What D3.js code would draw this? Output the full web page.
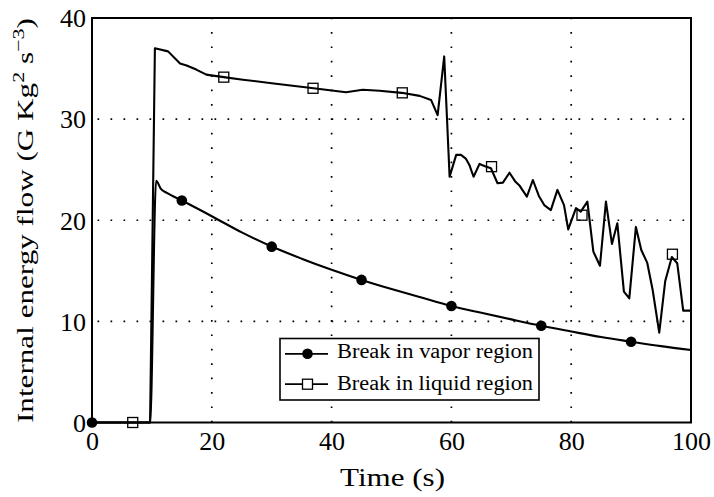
<!DOCTYPE html>
<html>
<head>
<meta charset="utf-8">
<script src="https://cdn.jsdelivr.net/npm/d3@7"></script>
<style>
  html, body { margin: 0; padding: 0; background: #fff; }
  svg { display: block; }
  text { font-family: "Liberation Serif", "Times New Roman", Tinos, Times, serif; fill: #000; }
</style>
</head>
<body>
<svg id="chart" width="714" height="497"></svg>
<script>
// ---- data ----
const vaporTime = [0, 9.7, 10.7, 11.5, 12.5, 15, 20, 25, 30, 35, 40, 45, 50, 55, 60, 65, 70, 75, 80, 85, 90, 95, 100];
const vaporValue = [0, 0, 23.9, 23.1, 22.7, 21.95, 20.4, 18.8, 17.4, 16.2, 15.1, 14.1, 13.2, 12.35, 11.52, 10.85, 10.2, 9.57, 9.0, 8.45, 7.99, 7.55, 7.17];

const liquidTime = [0, 9.7, 10.5, 12.7, 14.7, 15.8, 17.4, 19.1, 20.2, 22, 25.2, 30, 37, 42.4, 45.2, 48, 51.7, 54.7, 56.6, 57.7, 58.8, 59.7,
  60.8, 61.6, 62.4, 63.0, 63.7, 64.7, 65.5, 66.6, 67.7, 68.6, 69.7, 70.7, 71.4, 72.6, 73.6, 74.6, 75.5, 76.6, 77.7, 78.8, 79.5,
  80.8, 81.6, 82.7, 83.7, 84.8, 85.8, 86.8, 87.7, 88.8, 89.7, 90.8, 91.7, 92.7, 93.6, 94.7, 95.7, 96.8, 97.7, 98.7, 100];
const liquidValue = [0, 0, 37.0, 36.7, 35.5, 35.3, 34.9, 34.4, 34.3, 34.15, 33.9, 33.55, 33.05, 32.66, 32.9, 32.8, 32.6, 32.3, 31.9, 30.4, 36.2, 24.3,
  26.46, 26.46, 26.1, 25.47, 24.3, 25.57, 25.37, 25.14, 23.66, 23.72, 24.7, 23.8, 23.4, 22.33, 23.98, 22.4, 21.5, 21.0, 23.0, 21.5, 19.1,
  21.2, 20.85, 21.84, 16.9, 15.5, 21.84, 17.66, 19.7, 12.94, 12.28, 19.34, 17.06, 15.78, 13.1, 8.88, 14.0, 16.37, 15.75, 11.06, 11.06];

const vaporMarkTime = [0, 15, 30, 45, 60, 75, 90];
const vaporMarkValue = [0, 21.95, 17.39, 14.1, 11.52, 9.57, 7.99];
const liquidMarkTime = [6.8, 22, 36.9, 51.8, 66.7, 81.8, 96.9];
const liquidMarkValue = [0, 34.15, 33.05, 32.6, 25.3, 20.5, 16.64];

const xTicks = [0, 20, 40, 60, 80, 100];
const yTicks = [0, 10, 20, 30, 40];
const seriesNames = ["Break in vapor region", "Break in liquid region"];

// ---- layout ----
const FONT = '"Liberation Serif", "Times New Roman", Tinos, Times, serif';
const svg = d3.select("#chart");
const L = 92, R = 691, T = 18, B = 422.5;
const x = d3.scaleLinear().domain([0, 100]).range([L, R]);
const y = d3.scaleLinear().domain([0, 40]).range([B, T]);

// grid
const grid = svg.append("g");
grid.selectAll("line.gx").data(xTicks.filter(d => d > 0 && d < 100)).enter().append("line")
  .attr("x1", d => x(d)).attr("x2", d => x(d)).attr("y1", B).attr("y2", T)
  .attr("stroke", "#000").attr("stroke-width", 1.7).attr("stroke-dasharray", "1.7 12.7");
grid.selectAll("line.gy").data(yTicks.filter(d => d > 0 && d < 40)).enter().append("line")
  .attr("x1", L).attr("x2", R).attr("y1", d => y(d)).attr("y2", d => y(d))
  .attr("stroke", "#000").attr("stroke-width", 1.7).attr("stroke-dasharray", "1.7 11.3")
  .attr("stroke-dashoffset", -5.5);

// axes (labels only)
const xAxis = d3.axisBottom(x).tickValues(xTicks).tickSize(0).tickPadding(0).tickFormat(d3.format("d"));
const gx = svg.append("g").attr("transform", `translate(0,${B})`).call(xAxis);
gx.attr("font-family", FONT);
gx.select(".domain").remove();
gx.selectAll("text").attr("font-size", 26).attr("dy", null).attr("y", 27)
  .style("font-family", FONT);

const yAxis = d3.axisLeft(y).tickValues(yTicks).tickSize(0).tickPadding(0).tickFormat(d3.format("d"));
const gy = svg.append("g").attr("transform", `translate(${L},0)`).call(yAxis);
gy.attr("font-family", FONT);
gy.select(".domain").remove();
gy.selectAll("text").attr("font-size", 26).attr("x", -6).attr("dy", "0.34em")
  .style("font-family", FONT);

// series lines
const vLine = d3.line().x((d, i) => x(vaporTime[i])).y(d => y(d)).curve(d3.curveMonotoneX);
const lLine = d3.line().x((d, i) => x(liquidTime[i])).y(d => y(d)).curve(d3.curveLinear);

svg.append("path").attr("d", lLine(liquidValue)).attr("fill", "none")
  .attr("stroke", "#000").attr("stroke-width", 2.1).attr("stroke-linejoin", "round");
svg.append("path").attr("d", vLine(vaporValue)).attr("fill", "none")
  .attr("stroke", "#000").attr("stroke-width", 2.1).attr("stroke-linejoin", "round");

// frame
svg.append("rect").attr("x", L).attr("y", T).attr("width", R - L).attr("height", B - T)
  .attr("fill", "none").attr("stroke", "#000").attr("stroke-width", 2);

// markers
svg.selectAll("circle.vm").data(vaporMarkValue).enter().append("circle")
  .attr("cx", (d, i) => x(vaporMarkTime[i])).attr("cy", d => y(d)).attr("r", 5.3).attr("fill", "#000");
const sq = 10;
svg.selectAll("rect.lm").data(liquidMarkValue).enter().append("rect")
  .attr("x", (d, i) => x(liquidMarkTime[i]) - sq / 2).attr("y", d => y(d) - sq / 2)
  .attr("width", sq).attr("height", sq)
  .attr("fill", "none").attr("stroke", "#000").attr("stroke-width", 1.3);

// legend
const lg = svg.append("g");
lg.append("rect").attr("x", 280).attr("y", 338.5).attr("width", 259).attr("height", 61.5)
  .attr("fill", "#fff").attr("stroke", "#000").attr("stroke-width", 1.6);
const rows = [353.8, 384.2];
rows.forEach((ry, i) => {
  lg.append("line").attr("x1", 285).attr("x2", 328).attr("y1", ry).attr("y2", ry)
    .attr("stroke", "#000").attr("stroke-width", 1.8);
  if (i === 0) {
    lg.append("circle").attr("cx", 307.5).attr("cy", ry).attr("r", 5.3).attr("fill", "#000");
  } else {
    lg.append("rect").attr("x", 307.5 - sq / 2).attr("y", ry - sq / 2).attr("width", sq).attr("height", sq)
      .attr("fill", "#fff").attr("stroke", "#000").attr("stroke-width", 1.3);
  }
  lg.append("text").attr("x", 337).attr("y", ry + 5 + (i === 0 ? -0.5 : 0.5))
    .attr("font-size", 20).attr("textLength", 196).attr("lengthAdjust", "spacingAndGlyphs")
    .style("font-family", FONT)
    .text(seriesNames[i]);
});

// axis titles
svg.append("text").attr("x", (L + R) / 2 + 1).attr("y", 486).attr("text-anchor", "middle")
  .attr("font-size", 26).attr("textLength", 105).attr("lengthAdjust", "spacingAndGlyphs")
  .style("font-family", FONT)
  .text("Time (s)");

const yl = svg.append("text").attr("transform", "translate(33,220.5) rotate(-90)")
  .attr("text-anchor", "middle").attr("font-size", 24)
  .attr("textLength", 405).attr("lengthAdjust", "spacingAndGlyphs")
  .style("font-family", FONT);
yl.append("tspan").text("Internal energy flow (G Kg");
yl.append("tspan").attr("font-size", 17).attr("dy", -9).text("2");
yl.append("tspan").attr("dy", 9).text(" s");
yl.append("tspan").attr("font-size", 17).attr("dy", -9).text("−3");
yl.append("tspan").attr("dy", 9).text(")");
</script>
</body>
</html>
